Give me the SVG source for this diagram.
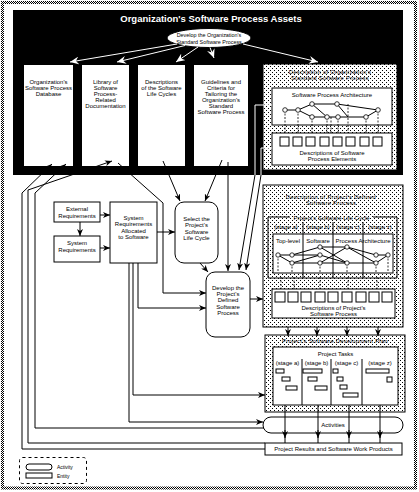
<svg xmlns="http://www.w3.org/2000/svg" width="419" height="492" viewBox="0 0 419 492">
<style>
text{font-family:"Liberation Sans",Arial,sans-serif;font-size:6px;text-anchor:middle;fill:#000}
.t{font-size:9.5px;font-weight:bold;fill:#fff}
.d{font-size:5.8px;letter-spacing:0.3px}
.e{font-size:5.4px}
.ln{fill:none;stroke:#000;stroke-width:1}
.lw{fill:none;stroke:#fff;stroke-width:1}
.bx{fill:#fff;stroke:#000;stroke-width:1}
.dt{fill:url(#dots);stroke:#000;stroke-width:1}
.nd{fill:#fff;stroke:#000;stroke-width:0.8}
.ds{fill:none;stroke:#000;stroke-width:0.8;stroke-dasharray:2,1.5}
</style>
<defs>
<pattern id="dots" width="4" height="4" patternUnits="userSpaceOnUse"><rect width="4" height="4" fill="#fff"/><rect width="1" height="1" fill="#000"/><rect x="2" y="2" width="1" height="1" fill="#000"/></pattern>
<pattern id="checker" width="2" height="2" patternUnits="userSpaceOnUse"><rect width="2" height="2" fill="#fff"/><rect width="1" height="1" fill="#000"/><rect x="1" y="1" width="1" height="1" fill="#000"/></pattern>
<marker id="ab" markerWidth="8" markerHeight="6" refX="7" refY="3" orient="auto" markerUnits="userSpaceOnUse"><path d="M0,0 L7,3 L0,6 L2,3 z" fill="#000"/></marker>
<marker id="aw" markerWidth="10" markerHeight="8" refX="9" refY="4" orient="auto" markerUnits="userSpaceOnUse"><path d="M0,0 L9,4 L0,8 L3,4 z" fill="#fff"/></marker>
</defs>
<rect width="419" height="492" fill="#fff"/>
<rect x="2.5" y="2.5" width="413" height="485.5" fill="none" stroke="url(#checker)" stroke-width="3"/>

<g id="org-assets">
<rect x="13" y="10" width="390" height="165" fill="#000"/>
<text class="t" x="211" y="22">Organization's Software Process Assets</text>
</g>

<g id="develop-org">
<ellipse cx="209" cy="38" rx="42" ry="9.5" class="bx"/>
<text class="e" x="209" y="37">Develop the Organization's</text>
<text class="e" x="209" y="43.5">Standard Software Process</text>
</g>

<g id="col-database">
<rect x="24" y="65" width="49" height="101" fill="#fff"/>
<text x="48.5" y="84">Organization's</text>
<text x="48.5" y="90">Software Process</text>
<text x="48.5" y="96">Database</text>
</g>
<g id="col-library">
<rect x="82" y="65" width="47" height="101" fill="#fff"/>
<text x="105.5" y="84">Library of</text>
<text x="105.5" y="90">Software</text>
<text x="105.5" y="96">Process-</text>
<text x="105.5" y="102">Related</text>
<text x="105.5" y="108">Documentation</text>
</g>
<g id="col-lifecycles">
<rect x="138" y="65" width="47" height="101" fill="#fff"/>
<text x="161.5" y="84">Descriptions</text>
<text x="161.5" y="90">of the Software</text>
<text x="161.5" y="96">Life Cycles</text>
</g>
<g id="col-guidelines">
<rect x="194" y="65" width="54" height="101" fill="#fff"/>
<text x="221" y="84">Guidelines and</text>
<text x="221" y="90">Criteria for</text>
<text x="221" y="96">Tailoring the</text>
<text x="221" y="102">Organization's</text>
<text x="221" y="108">Standard</text>
<text x="221" y="114">Software Process</text>
</g>

<g id="org-std-process">
<rect x="263" y="64" width="134" height="106" class="dt"/>
<text class="d" x="330" y="74">Description of Organization's</text>
<text class="d" x="330" y="80">Standard Software Process</text>
<rect x="272" y="88" width="120" height="37" class="bx"/>
<text x="332" y="97">Software Process Architecture</text>
<path class="ds" d="M285,110V136 M298,110V136 M312,117V136 M327,117V136 M331,117V136 M338,117V136 M348,104V136 M366,117V136 M378,110V136"/>
<path class="ln" stroke-width="0.8" d="M285,110H298L312,104H337L378,110 M298,110L312,117H338H366L378,110 M312,104L327,117 M337,104L348,117"/>
<circle class="nd" cx="285" cy="110" r="2.3"/><circle class="nd" cx="298" cy="110" r="2.3"/>
<circle class="nd" cx="312" cy="104" r="2.3"/><circle class="nd" cx="312" cy="117" r="2.3"/>
<circle class="nd" cx="327" cy="117" r="2.3"/><circle class="nd" cx="337" cy="104" r="2.3"/>
<circle class="nd" cx="338" cy="117" r="2.3"/><circle class="nd" cx="366" cy="117" r="2.3"/>
<circle class="nd" cx="378" cy="110" r="2.3"/>
<rect x="272" y="133" width="120" height="32" class="bx"/>
<g class="bx">
<rect x="280" y="137" width="9" height="9"/><rect x="293" y="137" width="9" height="9"/><rect x="306" y="137" width="9" height="9"/><rect x="320" y="137" width="9" height="9"/><rect x="333" y="137" width="9" height="9"/><rect x="346" y="137" width="9" height="9"/><rect x="360" y="137" width="9" height="9"/><rect x="373" y="137" width="9" height="9"/>
</g>
<text x="332" y="155">Descriptions of Software</text>
<text x="332" y="161">Process Elements</text>
</g>

<g id="external-req">
<rect x="54" y="202" width="46" height="20" class="bx"/>
<text x="77" y="211">External</text>
<text x="77" y="218">Requirements</text>
</g>
<g id="system-req">
<rect x="54" y="236" width="46" height="26" class="bx"/>
<text x="77" y="245">System</text>
<text x="77" y="252">Requirements</text>
</g>
<g id="sys-alloc">
<rect x="110" y="202" width="47" height="61" class="bx"/>
<text x="133.5" y="220">System</text>
<text x="133.5" y="226">Requirements</text>
<text x="133.5" y="233">Allocated</text>
<text x="133.5" y="239">to Software</text>
</g>
<g id="select-lifecycle">
<rect x="175" y="202" width="43" height="61" rx="9" class="bx"/>
<text x="196.5" y="221">Select the</text>
<text x="196.5" y="227">Project's</text>
<text x="196.5" y="234">Software</text>
<text x="196.5" y="240">Life Cycle</text>
</g>
<g id="develop-project">
<rect x="206" y="272" width="44" height="65" rx="9" class="bx"/>
<text x="228" y="290">Develop the</text>
<text x="228" y="296">Project's</text>
<text x="228" y="302">Defined</text>
<text x="228" y="309">Software</text>
<text x="228" y="315">Process</text>
</g>

<g id="project-defined-process">
<rect x="263" y="185" width="140" height="142" class="dt"/>
<text class="d" x="331" y="199">Description of Project's Defined</text>
<text class="d" x="331" y="205">Software Process</text>
<path class="ln" d="M290,217H268V278H397V217H373 M303,222V278 M333,222V278 M363,222V278"/>
<text x="331.5" y="219.5">Project's Software Life Cycle</text>
<text x="286" y="229">(stage a)</text>
<text x="318" y="229">(stage b)</text>
<text x="348" y="229">(stage c)</text>
<text x="380" y="229">(stage z)</text>
<rect x="273" y="234" width="120" height="39" class="bx"/>
<path class="ln" d="M303,234V273 M333,234V273 M363,234V273"/>
<text x="288" y="243">Top-level</text>
<text x="318" y="243">Software</text>
<text x="363" y="243">Process Architecture</text>
<path class="ln" stroke-width="0.7" d="M278,255H292L320,247H347L376,255H388 M278,255L292,263H320H347L376,263L388,255 M292,255H320L347,263 M292,263L320,255 M320,247L347,263 M347,247L376,263 M320,263L347,247"/>
<path class="ds" d="M278,255V272 M292,263V272 M320,263V272 M347,263V272 M376,263V272 M388,255V272 M281,277V290 M294,277V290 M320,277V290 M348,277V290 M377,277V290"/>
<circle class="nd" cx="278" cy="255" r="2.2"/><circle class="nd" cx="292" cy="255" r="2.2"/><circle class="nd" cx="292" cy="263" r="2.2"/>
<circle class="nd" cx="320" cy="247" r="2.2"/><circle class="nd" cx="320" cy="255" r="2.2"/><circle class="nd" cx="320" cy="263" r="2.2"/>
<circle class="nd" cx="347" cy="247" r="2.2"/><circle class="nd" cx="347" cy="263" r="2.2"/>
<circle class="nd" cx="376" cy="255" r="2.2"/><circle class="nd" cx="388" cy="255" r="2.2"/><circle class="nd" cx="376" cy="263" r="2.2"/>
<rect x="272" y="289" width="123" height="29" class="bx"/>
<g class="bx">
<rect x="275" y="292" width="10" height="10"/><rect x="288" y="292" width="10" height="10"/><rect x="301" y="292" width="10" height="10"/><rect x="315" y="292" width="10" height="10"/><rect x="328" y="292" width="10" height="10"/><rect x="342" y="292" width="10" height="10"/><rect x="356" y="292" width="10" height="10"/><rect x="369" y="292" width="10" height="10"/><rect x="382" y="292" width="10" height="10"/>
</g>
<text x="333.5" y="310">Descriptions of Project's</text>
<text x="333.5" y="316">Software Process</text>
</g>

<g id="dev-plan">
<rect x="265" y="335" width="140" height="77" class="dt"/>
<text class="d" x="335" y="343">Project's Software Development Plan</text>
<rect x="273" y="347" width="125" height="58" class="bx"/>
<text x="335.5" y="356">Project Tasks</text>
<path class="ln" d="M302,359V405 M331,359V405 M362,359V405"/>
<text x="287.5" y="365">(stage a)</text>
<text x="316.5" y="365">(stage b)</text>
<text x="346.5" y="365">(stage c)</text>
<text x="380" y="365">(stage z)</text>
<g class="bx">
<rect x="276" y="369" width="8" height="4"/><rect x="282" y="377" width="8" height="4"/><rect x="286" y="386" width="11" height="4"/>
<rect x="303" y="369" width="19" height="4"/><rect x="308" y="377" width="9" height="4"/><rect x="315" y="386" width="12" height="4"/>
<rect x="333" y="369" width="5" height="4"/><rect x="337" y="377" width="6" height="4"/><rect x="340" y="385" width="7" height="4"/><rect x="343" y="393" width="15" height="4"/>
<rect x="366" y="369" width="23" height="4"/><rect x="387" y="377" width="5" height="5"/>
</g>
</g>

<g id="activities">
<rect x="263" y="417" width="140" height="16" rx="8" class="bx"/>
<text x="333" y="427">Activities</text>
</g>
<g id="results">
<rect x="265" y="443" width="137" height="12" class="bx"/>
<text x="333.5" y="451">Project Results and Software Work Products</text>
</g>

<g id="legend">
<rect x="19.5" y="457.5" width="67" height="26" rx="3" fill="none" stroke="#000" stroke-width="1" stroke-dasharray="3,3"/>
<rect x="26" y="464" width="26" height="6" rx="3" class="bx"/>
<text x="57" y="469" style="text-anchor:start;font-size:5px">Activity</text>
<rect x="26" y="473" width="26" height="5" class="bx"/>
<text x="57" y="478" style="text-anchor:start;font-size:5px">Entity</text>
</g>

<g id="connectors">
<path class="lw" marker-end="url(#aw)" d="M177,44L70,62"/>
<path class="lw" marker-end="url(#aw)" d="M185,45.5L117,62"/>
<path class="lw" marker-end="url(#aw)" d="M198,47L176,62"/>
<path class="lw" marker-end="url(#aw)" d="M210,47.5L214,58"/>
<path class="lw" marker-end="url(#aw)" d="M243,44L318,62"/>
<path class="lw" d="M272,105H255V175 M272,148H261V175"/>
<path class="ln" marker-end="url(#ab)" d="M255,175L239,270"/>
<path class="ln" marker-end="url(#ab)" d="M261,175L246,270"/>
<path class="ln" marker-end="url(#ab)" d="M228,162V271"/>
<path class="ln" marker-end="url(#ab)" d="M163,161L180,201"/>
<path class="ln" marker-end="url(#ab)" d="M222,160L205,201"/>
<path class="ln" marker-end="url(#ab)" d="M200,263L208,272"/>
<path class="ln" marker-end="url(#ab)" d="M80,222V236"/>
<path class="ln" marker-end="url(#ab)" d="M100,215H110"/>
<path class="ln" marker-end="url(#ab)" d="M100,248H110"/>
<path class="ln" marker-end="url(#ab)" d="M157,232H175"/>
<path class="ln" marker-end="url(#ab)" d="M250,299H263"/>
<path class="ln" marker-end="url(#ab)" d="M118,163L163,203V293H206"/>
<path class="ln" marker-end="url(#ab)" d="M138,263V308H206"/>
<path class="ln" marker-end="url(#ab)" d="M133,263V395H265"/>
<path class="ln" marker-end="url(#ab)" d="M129,263V422H263"/>
<path class="ln" marker-end="url(#ab)" d="M265,449H22V193L52,164"/>
<path class="ln" marker-end="url(#ab)" d="M265,443H28V190L112,161"/>
<path class="ln" marker-end="url(#ab)" d="M264,428H35V193L66,164"/>
<path class="ln" marker-end="url(#ab)" d="M288,327V336"/>
<path class="ln" marker-end="url(#ab)" d="M317,327V336"/>
<path class="ln" marker-end="url(#ab)" d="M347,327V336"/>
<path class="ln" marker-end="url(#ab)" d="M378,327V336"/>
<path class="ln" d="M285,405V443 M318,405V443 M349,405V443 M380,405V443"/>
<path class="ln" marker-end="url(#ab)" d="M285,430V438"/>
<path class="ln" marker-end="url(#ab)" d="M318,430V438"/>
<path class="ln" marker-end="url(#ab)" d="M349,430V438"/>
<path class="ln" marker-end="url(#ab)" d="M380,430V438"/>
</g>
</svg>
